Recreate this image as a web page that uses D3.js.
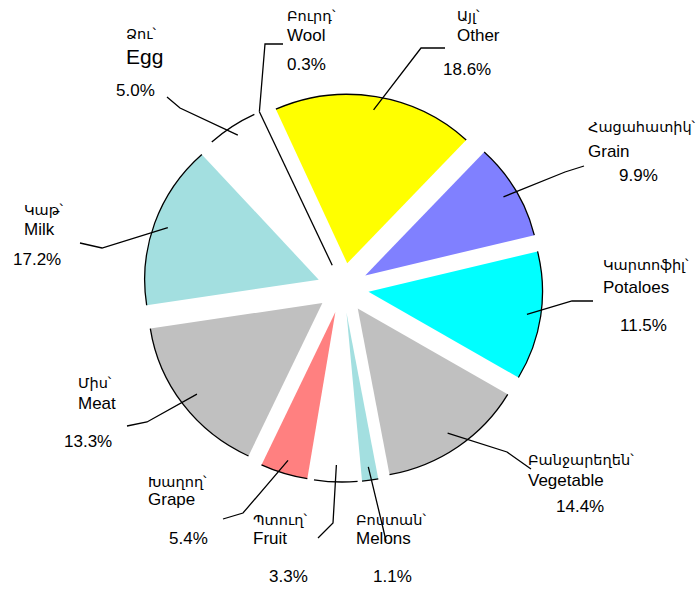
<!DOCTYPE html>
<html>
<head>
  <meta charset="UTF-8">
  <title>Pie</title>
  <style>
    body { margin: 0; background: #fff; }
    text { font-family: 'Liberation Sans', Arial, sans-serif; font-size: 17px; fill: #000; }
    text.arm { font-family: 'DejaVu Sans', sans-serif; font-size: 14.5px; }
    .rim, .leader, .thin { fill: none; stroke: #000; stroke-width: 1.3px; }
  </style>
</head>
<body>
  <script src="https://d3js.org/d3.v7.min.js"></script>
  <script>
    // slices in drawing order, clockwise from the top
    var categories = ["Other", "Grain", "Potaloes", "Vegetable", "Melons", "Fruit", "Grape", "Meat", "Milk", "Egg", "Wool"];
    var armenian = ["Այլ՝", "Հացահատիկ՝", "Կարտոֆիլ՝", "Բանջարեղեն՝", "Բոստան՝", "Պտուղ՝", "Խաղող՝", "Միս՝", "Կաթ՝", "Ձու՝", "Բուրդ՝"];
    // percentages printed on the labels
    var percents = [18.6, 9.9, 11.5, 14.4, 1.1, 3.3, 5.4, 13.3, 17.2, 5.0, 0.3];
    // slice sizes as they are drawn in the picture (%)
    var shares = [18.7, 9.2, 12.3, 13.6, 1.5, 4.0, 4.4, 15.6, 15.7, 4.7, 0.3];
    var colors = ["#ffff00", "#8080ff", "#00ffff", "#c0c0c0", "#a3dfe0", "#ffffff", "#ff8080", "#c0c0c0", "#a3dfe0", "#ffffff", "#ffffff"];

    var width = 699, height = 590;
    var cx = 343, cy = 288, R = 169, explode = 25, sx = 1.03;
    var start = -24.2 * Math.PI / 180;

    // label layout: armenian line, english line, percent, leader start + elbow
    var layout = {
      Other:     {ax: 457, ay: 21,  ey: 41,  px: 443, py: 75,  l0: [445, 48],  l1: [421, 48],  tip: 0.92},
      Grain:     {ax: 588, ay: 132, ey: 157, px: 619, py: 181, l0: [584, 166], l1: [565, 172], tip: 0.92},
      Potaloes:  {ax: 603, ay: 270, ey: 293, px: 620, py: 331, l0: [593, 301], l1: [572, 301], tip: 0.92},
      Vegetable: {ax: 528, ay: 465, ey: 486, px: 556, py: 512, l0: [531, 469], l1: [507, 452], tip: 0.9},
      Melons:    {ax: 356, ay: 525, ey: 544, px: 373, py: 582, l0: [386, 541], l1: [383, 528], tip: 0.92},
      Fruit:     {ax: 253, ay: 525, ey: 544, px: 269, py: 582, l0: [318, 538], l1: [333, 523], tip: 0.9},
      Grape:     {ax: 148, ay: 487, ey: 505, px: 169, py: 544, l0: [223, 519], l1: [243, 513], tip: 0.92},
      Meat:      {ax: 78,  ay: 388, ey: 409, px: 64,  py: 447, l0: [127, 426], l1: [147, 422], tip: 0.9},
      Milk:      {ax: 24,  ay: 215, ey: 235, px: 13,  py: 265, l0: [80, 243],  l1: [102, 248], tip: 0.92},
      Egg:       {ax: 126, ay: 39,  ey: 64,  px: 116, py: 96,  l0: [167, 97],  l1: [180, 108], tip: 0.94, big: true},
      Wool:      {ax: 287, ay: 21,  ey: 41,  px: 287, py: 70,  l0: [283, 44],  l1: [265, 44],  tip: 1.0}
    };

    var svg = d3.select("body").append("svg")
        .attr("width", width)
        .attr("height", height);

    var pie = d3.pie().sort(null).value(function(d) { return d; })
        .startAngle(start).endAngle(start + 2 * Math.PI);
    var arcs = pie(shares);
    var arc = d3.arc().innerRadius(0).outerRadius(R);

    function mid(d) { return (d.startAngle + d.endAngle) / 2; }

    var pieG = svg.append("g")
        .attr("transform", "translate(" + cx + "," + cy + ") scale(" + sx + ",1)");

    var slices = pieG.selectAll("g.slice")
      .data(arcs)
      .enter().append("g")
        .attr("class", "slice")
        .attr("transform", function(d) {
          var m = mid(d);
          return "translate(" + explode * Math.sin(m) + "," + (-explode * Math.cos(m)) + ")";
        });

    slices.filter(function(d) { return d.data >= 1; })
      .append("path")
        .attr("d", arc)
        .attr("fill", function(d) { return colors[d.index]; });

    slices.filter(function(d) { return d.data >= 1; })
      .append("path")
        .attr("class", "rim")
        .attr("vector-effect", "non-scaling-stroke")
        .attr("d", function(d) {
          var p = d3.path();
          p.moveTo(R * Math.sin(d.startAngle), -R * Math.cos(d.startAngle));
          p.arc(0, 0, R, d.startAngle - Math.PI / 2, d.endAngle - Math.PI / 2);
          return p.toString();
        });

    // very thin slice is only a line
    slices.filter(function(d) { return d.data < 1; })
      .append("line")
        .attr("class", "thin")
        .attr("vector-effect", "non-scaling-stroke")
        .attr("x1", 0).attr("y1", 0)
        .attr("x2", function(d) { return R * Math.sin(mid(d)); })
        .attr("y2", function(d) { return -R * Math.cos(mid(d)); });

    var fmt = function(v) { return d3.format(".1f")(v) + "%"; };

    arcs.forEach(function(d) {
      var name = categories[d.index];
      var L = layout[name];
      var m = mid(d);
      var r = explode + L.tip * R;
      var tip = [cx + sx * r * Math.sin(m), cy - r * Math.cos(m)];

      svg.append("path")
        .attr("class", "leader")
        .attr("d", d3.line()([L.l0, L.l1, tip]));

      svg.append("text").attr("class", "arm")
        .attr("x", L.ax).attr("y", L.ay)
        .text(armenian[d.index]);
      svg.append("text")
        .attr("x", L.ax).attr("y", L.ey)
        .style("font-size", L.big ? "21px" : null)
        .text(name);
      svg.append("text")
        .attr("x", L.px).attr("y", L.py)
        .text(fmt(percents[d.index]));
    });
  </script>
</body>
</html>
